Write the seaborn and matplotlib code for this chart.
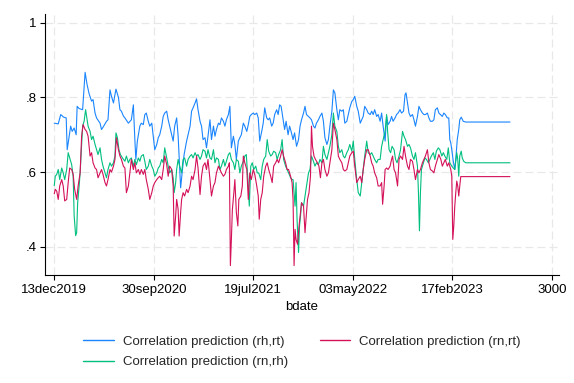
import numpy as np
import pandas as pd
import matplotlib
matplotlib.use("Agg")
import matplotlib.pyplot as plt
import seaborn as sns
from matplotlib import font_manager

# ---------------- data (business-day index, correlation) ----------------
bday_rhrt = [0, 8, 13, 19, 24, 26, 29, 33, 36, 40, 44, 46, 50, 57, 62, 66, 70, 75, 78, 82, 85, 92, 95, 98,
             105, 108, 112, 115, 119, 124, 129, 132, 135, 139, 142,
             149, 155, 159, 162, 164, 167, 172, 175, 179, 182, 185, 189, 192, 196, 199, 202, 206, 209, 212,
             216, 219, 222, 226, 229, 232, 236, 239, 242, 246, 249, 252, 254, 257, 261, 266, 269, 273, 276,
             279, 283, 286, 289, 293, 296, 299, 303, 306, 309,
             313, 316, 320, 323, 326, 330, 333, 336, 340, 343, 346, 350, 353, 356, 360, 363, 366, 370, 373,
             376, 380, 383, 387, 390, 393, 396, 400, 403, 407, 410, 413, 417, 420, 423, 427, 430, 433, 437,
             440, 443, 447, 450, 453, 456, 460, 463, 466, 470, 473, 476, 480, 483, 487,
             491, 494, 497, 501, 504, 507, 511, 514, 517, 521, 524, 527, 531, 534, 538, 541, 544, 548, 551,
             554, 558, 561, 564, 568, 571, 574, 578, 581, 584, 588, 591, 594, 598, 601, 604, 608, 611, 615,
             618, 621, 624, 628, 631, 635, 638, 641, 644, 648, 651,
             655, 658, 661, 665, 668, 671, 675, 678, 681, 685, 688, 691, 695, 698, 702, 705, 707, 710, 713,
             716, 720, 723, 726, 730, 733, 736, 740, 743, 746, 750, 753, 756, 760, 763, 766, 770, 773, 776,
             780, 783, 786, 790, 793, 795, 797, 799, 802, 805, 807, 810, 813, 815, 818, 822, 827, 916]
corr_rhrt = [.731, .729, .754, .747, .745, .66, .687, .723, .709, .718, .70, .776, .77, .767, .867, .834, .81,
             .79, .794, .758, .745, .731, .714, .72, .736, .74, .82, .803, .785, .822, .80, .767, .763, .75, .745,
             .731, .74, .78, .687, .634, .683, .723, .731, .727, .754, .758, .736, .723, .731, .696, .66, .674,
             .692, .70, .723, .749, .758, .763, .74, .723, .70, .683, .723, .745, .696, .616, .558, .598, .647,
             .683, .70, .723, .763, .772, .785, .796, .767, .736, .723, .687, .692, .665, .696,
             .74, .687, .723, .696, .714, .731, .727, .745, .736, .723, .74, .754, .776, .665, .696, .674, .634,
             .683, .692, .70, .731, .723, .709, .727, .749, .754, .758, .754, .758, .745, .683, .709, .731, .772,
             .745, .74, .745, .723, .731, .754, .767, .754, .78, .776, .74, .714, .736, .70, .723, .709, .687,
             .705, .669,
             .687, .723, .74, .758, .776, .754, .749, .745, .74, .723, .718, .731, .74, .749, .758, .736, .692,
             .674, .687, .723, .763, .82, .812, .767, .74, .767, .763, .767, .731, .736, .754, .772, .789, .794,
             .803, .776, .763, .731, .74, .749, .776, .767, .758, .754, .763, .754, .767, .749, .754,
             .736, .758, .723, .683, .749, .727, .736, .749, .736, .745, .754, .758, .767, .758, .763, .807, .812,
             .785, .758, .749, .754, .74, .723, .749, .776, .767, .758, .754, .754, .758, .745, .736, .736, .74,
             .767, .772, .758, .754, .749, .758, .754, .745, .745, .687, .678, .66, .629, .607, .634, .687, .714,
             .74, .747, .736, .734, .734]

bday_rnrh = [0, 2, 5, 8, 11, 15, 18, 21, 25, 28, 31, 35, 38, 40, 43, 45, 47, 50, 52, 55, 57, 60, 63, 65, 68,
             72, 75, 78, 82, 85, 88, 92, 95, 98, 102, 105, 108, 112, 115, 119, 122, 124, 127, 130, 133, 137,
             142, 145, 149, 152, 155, 159, 162, 165, 169, 172, 175, 179, 182, 185, 189, 192, 196, 199, 202,
             206, 209, 212, 216, 219, 222, 226, 229, 232, 236, 239, 241, 244, 246, 249, 252, 256, 259, 262,
             266, 269, 273, 276, 279, 283, 286, 289, 293, 296, 299, 303, 306, 309,
             313, 316, 320, 323, 326, 330, 333, 336, 340, 343, 346, 350, 353, 356, 360, 363, 366, 370, 373,
             376, 380, 383, 386, 390, 392, 395, 398, 401, 405, 408, 411, 415, 418, 421, 425, 428, 431, 435,
             438, 441, 445, 448, 451, 455, 458, 461, 465, 468, 471, 475, 478, 480, 482, 484, 486, 488, 491,
             493, 495, 497, 501, 504, 507, 511, 514, 517, 521, 524, 527, 531, 534, 538, 541, 544, 548, 551,
             554, 558, 561, 564, 568, 571, 574, 578, 581, 584, 588, 591, 594, 598, 601, 604, 608, 611, 615,
             618, 621, 624, 628, 631, 635, 638, 641, 644, 648, 651,
             655, 658, 661, 665, 668, 670, 673, 676, 679, 683, 686, 689, 693, 696, 700, 703, 706, 710, 713,
             716, 720, 723, 726, 730, 732, 734, 736, 738, 742, 745, 748, 752, 755, 758, 762, 765, 768, 772,
             775, 779, 782, 785, 789, 792, 795, 799, 802, 805, 809, 811, 813, 815, 818, 820, 823, 827, 916]
corr_rnrh = [.564, .589, .594, .607, .58, .611, .598, .58, .607, .652, .638, .62, .589, .483, .43, .438, .518,
             .563, .598, .67, .723, .736, .767, .749, .723, .709, .687, .696, .674, .66, .647, .665, .634, .616,
             .598, .585, .607, .625, .616, .625, .643, .705, .692, .66, .647, .638, .629,
             .643, .625, .634, .638, .616, .634, .62, .638, .629, .643, .647, .629, .607, .616, .634, .616,
             .607, .589, .598, .611, .616, .634, .625, .665, .638, .616, .598, .607, .585, .545, .572, .607,
             .634, .616, .598, .634, .638, .616, .634, .643, .647, .638, .652, .643, .647, .634, .643, .66,
             .656, .638, .66,
             .638, .634, .66, .625, .638, .634, .607, .616, .634, .616, .629, .647, .652, .634, .625, .607,
             .634, .629, .598, .616, .629, .643, .647, .563, .509, .616, .625, .607, .616, .598, .598, .58,
             .616, .634, .643, .687, .656, .643, .647, .656, .652, .634, .647, .66, .687, .634, .616, .607,
             .598, .585, .58, .58, .545, .509, .572, .474, .385,
             .456, .483, .518, .509, .536, .563, .598, .607, .643, .629, .616, .625, .62, .634, .625, .669,
             .647, .634, .652, .669, .70, .758, .723, .709, .669, .652, .66, .643, .638, .652, .66, .674, .656,
             .683, .634, .58, .545, .536, .572, .607, .643, .683, .652, .647, .652, .643, .634, .625, .634,
             .634, .669, .687, .709, .754, .709, .66, .652, .669, .66, .634, .625, .643, .66, .709, .696, .687,
             .669, .674, .665, .643, .634, .652, .616, .545, .443, .545, .607, .625, .638, .634, .625, .634,
             .643, .652, .634, .656, .665, .66, .643, .652, .643, .634, .665, .625, .616, .611, .607, .652,
             .634, .589, .643, .656, .638, .629, .625, .625]

bday_rnrt = [0, 2, 5, 8, 11, 15, 18, 21, 25, 28, 31, 35, 38, 41, 45, 48, 52, 55, 58, 62, 65, 68, 72, 75, 78,
             82, 85, 88, 92, 95, 98, 102, 105, 108, 112, 115, 119, 122, 125, 129, 132, 135, 139, 142,
             145, 149, 152, 155, 159, 162, 165, 169, 172, 175, 179, 182, 185, 189, 192, 196, 199, 202, 206,
             209, 212, 216, 219, 222, 226, 229, 232, 236, 239, 241, 244, 246, 249, 251, 254, 256, 259, 262,
             266, 269, 273, 276, 279, 283, 286, 289, 293, 296, 299, 303, 306, 309,
             313, 316, 320, 323, 326, 330, 333, 336, 340, 343, 346, 350, 352, 354, 356, 358, 361, 363, 366,
             369, 371, 375, 378, 380, 383, 387, 390, 393, 396, 400, 403, 407, 410, 412, 415, 418, 421, 425,
             428, 431, 435, 438, 441, 445, 448, 451, 455, 458, 461, 465, 468, 471, 475, 478, 480, 482, 484,
             486, 489, 492, 495, 497, 501, 504, 506, 509, 512, 515, 517, 519, 522, 525, 529, 532, 535, 538,
             541, 544, 548, 551, 554, 558, 561, 564, 568, 571, 574, 578, 581, 584, 588, 591, 594, 598, 601,
             604, 608, 611, 615, 618, 621, 624, 628, 631, 635, 638, 641, 644, 648, 651,
             655, 658, 660, 663, 665, 668, 671, 675, 678, 680, 683, 686, 690, 693, 696, 700, 703, 706, 710,
             713, 716, 720, 723, 726, 730, 733, 736, 740, 743, 746, 750, 753, 756, 760, 763, 766, 770, 773,
             777, 780, 783, 786, 790, 793, 797, 799, 801, 803, 805, 807, 809, 811, 813, 815, 817, 916]
corr_rnrt = [.542, .554, .549, .527, .563, .58, .563, .523, .527, .572, .611, .607, .594, .554, .527, .563,
             .598, .696, .727, .714, .709, .696, .643, .652, .625, .611, .607, .585, .598, .607, .594, .572,
             .563, .58, .607, .60, .616, .634, .692, .66, .643, .634, .616, .611,
             .545, .563, .598, .634, .607, .625, .598, .607, .594, .607, .594, .607, .58, .554, .527, .545,
             .563, .572, .58, .585, .589, .58, .607, .643, .62, .589, .616, .607, .563, .429, .483, .527, .50,
             .429, .492, .527, .545, .536, .554, .545, .563, .589, .58, .607, .643, .611, .54, .589, .616,
             .625, .607, .634,
             .58, .536, .563, .572, .598, .616, .607, .598, .589, .594, .607, .616, .625, .35, .42, .50,
             .545, .58, .492, .456, .527, .536, .563, .643, .625, .607, .527, .598, .58, .607, .594, .563,
             .536, .474, .527, .545, .589, .616, .625, .607, .589, .572, .616, .625, .634, .625, .643, .66,
             .643, .625, .607, .607, .589, .572, .527, .35, .447, .42, .407, .456, .492, .518, .509, .438,
             .474, .527, .545, .589, .723, .669, .643, .634, .625, .616, .585, .625, .634, .607, .589, .598,
             .625, .66, .731, .714, .687, .643, .634, .625, .607, .603, .607, .625, .643, .652, .656, .616,
             .572, .58, .589, .572, .607, .634, .66, .66, .643, .625, .616, .598, .585, .563,
             .563, .572, .514, .563, .607, .611, .607, .616, .634, .643, .607, .598, .563, .634, .643, .634,
             .669, .643, .616, .607, .634, .629, .607, .58, .607, .598, .607, .625, .634, .643, .66, .625,
             .607, .603, .598, .616, .634, .647, .634, .616, .625, .634, .616, .625, .607, .589, .42, .456,
             .509, .545, .576, .563, .536, .563, .588, .588]

series_labels = ["Correlation prediction (rh,rt)",
                 "Correlation prediction (rn,rh)",
                 "Correlation prediction (rn,rt)"]
xtick_pos = [0, 200, 400, 600, 800, 1000]
xtick_labels = ["13dec2019", "30sep2020", "19jul2021", "03may2022", "17feb2023", "3000"]
ytick_pos = [0.4, 0.6, 0.8, 1.0]
ytick_labels = [".4", ".6", ".8", "1"]

# ---------------- build long table ----------------
frames = []
for lab, xs, ys in zip(series_labels, [bday_rhrt, bday_rnrh, bday_rnrt], [corr_rhrt, corr_rnrh, corr_rnrt]):
    frames.append(pd.DataFrame({"bdate": xs, "corr": ys, "series": lab}))
df = pd.concat(frames, ignore_index=True)

palette = {series_labels[0]: "#1a85ff",
           series_labels[1]: "#00bf7f",
           series_labels[2]: "#d41159"}

# ---------------- style ----------------
sns.set_theme(style="white")
names = {f.name for f in font_manager.fontManager.ttflist}
if "Liberation Sans Narrow" in names:
    fam, fs = "Liberation Sans Narrow", 11
else:
    fam, fs = "Liberation Sans", 9.5
plt.rcParams["font.family"] = [fam, "DejaVu Sans"]

fig = plt.figure(figsize=(5.74, 3.83), dpi=100)
ax = fig.add_axes([45.3 / 574, 1 - 275.3 / 383, (559 - 45.3) / 574, (275.3 - 14) / 383])

sns.lineplot(data=df, x="bdate", y="corr", hue="series", hue_order=series_labels,
             palette=palette, estimator=None, sort=False, linewidth=0.8, ax=ax, legend=True)

handles, labels = ax.get_legend_handles_labels()
ax.get_legend().remove()
for h in handles:
    h.set_linewidth(1.0)

ax.set_xlim(-18, 1014.5)
ax.set_ylim(0.324, 1.023)
ax.set_xticks(xtick_pos)
ax.set_xticklabels(xtick_labels)
ax.set_yticks(ytick_pos)
ax.set_yticklabels(ytick_labels)
ax.set_xlabel("bdate", fontsize=fs, labelpad=4, color="black")
ax.set_ylabel("")

ax.set_axisbelow(True)
ax.grid(True, color="#e8e8e8", linestyle=(0, (6.4, 3.2)), linewidth=0.9)
for s in ["top", "right"]:
    ax.spines[s].set_visible(False)
for s in ["left", "bottom"]:
    ax.spines[s].set_color("black")
    ax.spines[s].set_linewidth(0.8)
ax.tick_params(axis="both", which="major", direction="out", length=3.6, width=0.8,
               color="black", labelsize=fs, labelcolor="black", pad=2.5,
               bottom=True, left=True)

fig.legend(handles, labels, loc="center", bbox_to_anchor=(302 / 574, 1 - 352 / 383), ncol=2,
           frameon=False, fontsize=fs, handlelength=2.3, handletextpad=0.7,
           columnspacing=2.4, labelspacing=0.6)

fig.savefig("out.png", dpi=100, facecolor="white")
